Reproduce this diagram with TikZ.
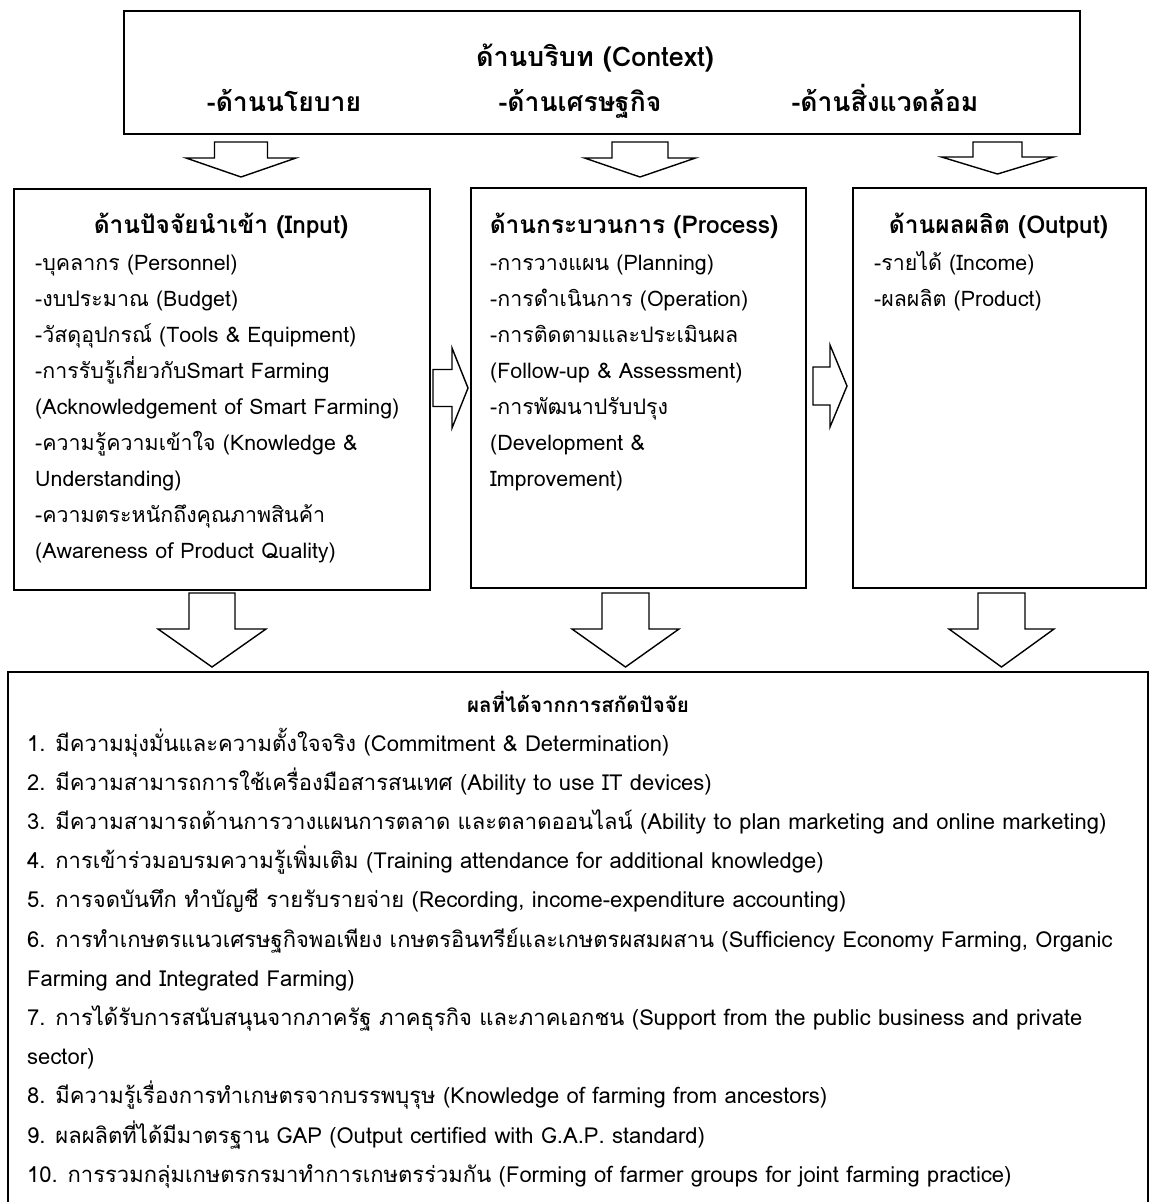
\documentclass[tikz,border=0pt]{standalone}
\usepackage{fontspec}
\setmainfont[Script=Thai]{Loma}
\usetikzlibrary{calc}
\newcommand\dnarr[7]{% name, cx, top, base, tip, shaft half, head half
  \draw[barrow] ({#2-#6},#3) coordinate (#1) -- ({#2+#6},#3) -- ({#2+#6},#4) -- ({#2+#7},#4) -- (#2,#5) -- ({#2-#7},#4) -- ({#2-#6},#4) -- cycle;}
\newcommand\rtarr[7]{% name, cy, x0, xbase, xtip, shaft half, head half
  \draw[barrow] (#3,{#2-#6}) coordinate (#1) -- (#4,{#2-#6}) -- (#4,{#2-#7}) -- (#5,#2) -- (#4,{#2+#7}) -- (#4,{#2+#6}) -- (#3,{#2+#6}) -- cycle;}
\begin{document}
\begin{tikzpicture}[x=1pt,y=-1pt,
  box/.style={draw,line width=1.6pt,inner sep=0pt,anchor=north west},
  barrow/.style={draw,line width=1.4pt,fill=white,line join=miter},
  ctx/.style={anchor=base,inner sep=0pt,font=\bfseries\fontsize{27}{30}\selectfont},
  ctxi/.style={anchor=base,inner sep=0pt,font=\bfseries\fontsize{26.5}{30}\selectfont},
  ttl/.style={anchor=base,inner sep=0pt,font=\bfseries\fontsize{24.5}{28}\selectfont},
  rttl/.style={anchor=base,inner sep=0pt,font=\bfseries\fontsize{20.6}{24}\selectfont},
  txt/.style={anchor=base west,inner sep=0pt,font=\fontsize{21.4}{24}\selectfont},
  btxt/.style={anchor=base west,inner sep=0pt,font=\fontsize{22}{24}\selectfont}]
\fill[white] (0,0) rectangle (1150,1202);
\useasboundingbox (0,0) rectangle (1150,1202);

% context box
\node[box,minimum width=956pt,minimum height=123pt] (ctxbox) at (123,10) {};
\node[ctx] (ctxt) at (595,66) {ด้านบริบท (Context)};
\node[ctxi] (ctx1) at (284,111) {-ด้านนโยบาย};
\node[ctxi] (ctx2) at (580,111) {-ด้านเศรษฐกิจ};
\node[ctxi] (ctx3) at (885,111) {-ด้านสิ่งแวดล้อม};

% three boxes
\node[box,minimum width=416pt,minimum height=401pt] (inbox) at (13,188) {};
\node[box,minimum width=335pt,minimum height=400pt] (prbox) at (470,187) {};
\node[box,minimum width=293pt,minimum height=400pt] (outbox) at (852,187) {};

\node[ttl] (inttl) at (221,233) {ด้านปัจจัยนำเข้า (Input)};
\node[ttl] (prttl) at (634,233) {ด้านกระบวนการ (Process)};
\node[ttl] (outttl) at (998.5,233) {ด้านผลผลิต (Output)};

\foreach \t [count=\i] in {
  {-บุคลากร (Personnel)},
  {-งบประมาณ (Budget)},
  {-วัสดุอุปกรณ์ (Tools \& Equipment)},
  {-การรับรู้เกี่ยวกับSmart Farming},
  {(Acknowledgement of Smart Farming)},
  {-ความรู้ความเข้าใจ (Knowledge \&},
  {Understanding)},
  {-ความตระหนักถึงคุณภาพสินค้า},
  {(Awareness of Product Quality)}}
  \node[txt] (in\i) at (35,{270+36*(\i-1)}) {\t};

\foreach \t [count=\i] in {
  {-การวางแผน (Planning)},
  {-การดำเนินการ (Operation)},
  {-การติดตามและประเมินผล},
  {(Follow-up \& Assessment)},
  {-การพัฒนาปรับปรุง},
  {(Development \&},
  {Improvement)}}
  \node[txt] (pr\i) at (490,{270+36*(\i-1)}) {\t};

\foreach \t [count=\i] in {
  {-รายได้ (Income)},
  {-ผลผลิต (Product)}}
  \node[txt] (out\i) at (874,{270+36*(\i-1)}) {\t};

% result box (bottom edge lies below the picture)
\coordinate (rbl) at (8,1210);
\coordinate (rtl) at (8,672);
\coordinate (rtr) at (1148,672);
\coordinate (rbr) at (1148,1210);
\draw[line width=1.6pt] (rbl) -- (rtl) -- (rtr) -- (rbr);
\node[rttl] (rttl) at (578,712) {ผลที่ได้จากการสกัดปัจจัย};
\foreach \t [count=\i] in {
  {1. มีความมุ่งมั่นและความตั้งใจจริง (Commitment \& Determination)},
  {2. มีความสามารถการใช้เครื่องมือสารสนเทศ (Ability to use IT devices)},
  {3. มีความสามารถด้านการวางแผนการตลาด และตลาดออนไลน์ (Ability to plan marketing and online marketing)},
  {4. การเข้าร่วมอบรมความรู้เพิ่มเติม (Training attendance for additional knowledge)},
  {5. การจดบันทึก ทำบัญชี รายรับรายจ่าย (Recording, income-expenditure accounting)},
  {6. การทำเกษตรแนวเศรษฐกิจพอเพียง เกษตรอินทรีย์และเกษตรผสมผสาน (Sufficiency Economy Farming, Organic},
  {Farming and Integrated Farming)},
  {7. การได้รับการสนับสนุนจากภาครัฐ ภาคธุรกิจ และภาคเอกชน (Support from the public business and private},
  {sector)},
  {8. มีความรู้เรื่องการทำเกษตรจากบรรพบุรุษ (Knowledge of farming from ancestors)},
  {9. ผลผลิตที่ได้มีมาตรฐาน GAP (Output certified with G.A.P. standard)},
  {10. การรวมกลุ่มเกษตรกรมาทำการเกษตรร่วมกัน (Forming of farmer groups for joint farming practice)}}
  \node[btxt] (res\i) at (27,{751+39.2*(\i-1)}) {\t};

% block arrows
\dnarr{a1}{241}{142}{158}{177}{26.5}{55}
\dnarr{a2}{640}{142}{158}{177}{28}{55.5}
\dnarr{a3}{997.5}{142}{157}{174}{24.5}{56}
\rtarr{a4}{388}{433}{452}{468}{18.5}{40}
\rtarr{a5}{386}{813}{830}{847}{19}{41}
\dnarr{a6}{212}{593}{629}{667}{23}{54}
\dnarr{a7}{625.5}{593}{629}{667}{23.5}{53.5}
\dnarr{a8}{1001.5}{593}{629}{667}{23.5}{52.5}
\end{tikzpicture}
\end{document}
